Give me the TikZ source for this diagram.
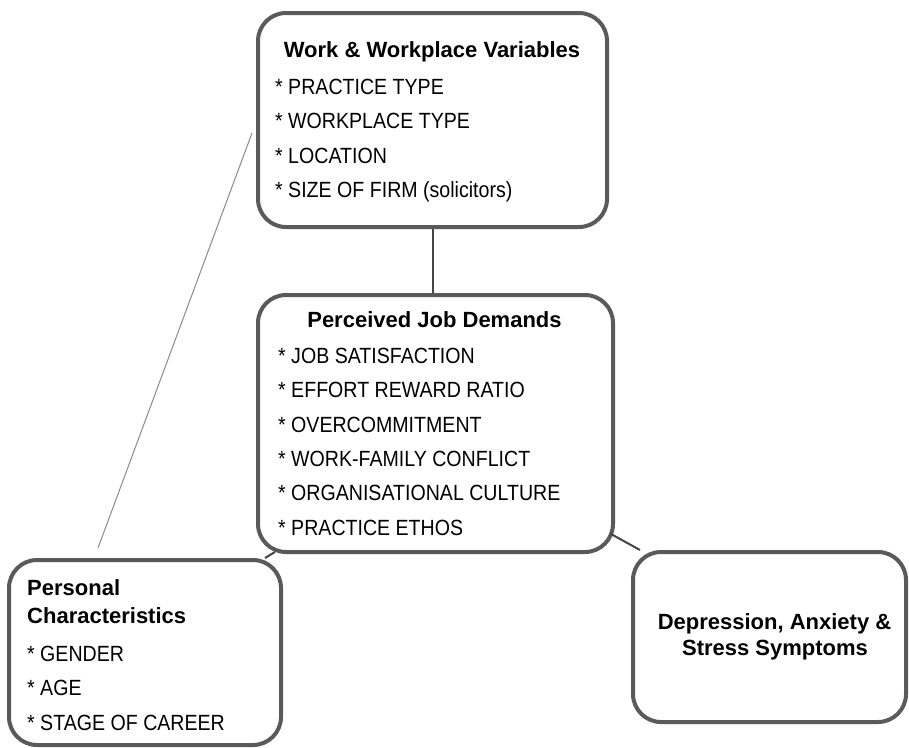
\documentclass[tikz,border=0pt]{standalone}
\usepackage{fontspec}
\setmainfont{Liberation Sans}
\newfontfamily\narrowfont{Liberation Sans}[FakeStretch=0.89]
\definecolor{boxgray}{HTML}{5A5A5A}
\definecolor{linkgray}{HTML}{454545}
\definecolor{faintgray}{HTML}{8A8A8A}
\begin{document}
\begin{tikzpicture}[x=1pt,y=-1pt,
  box/.style={draw=boxgray, line width=4pt, rounded corners=28pt, inner sep=0pt, fill=white},
  heading/.style={inner sep=0pt, anchor=base, font=\fontsize{22}{26}\selectfont\bfseries},
  headleft/.style={heading, anchor=base west},
  entry/.style={inner sep=0pt, anchor=base west, font=\narrowfont\fontsize{22}{26}\selectfont},
  link/.style={draw=linkgray, line width=2pt},
  faint/.style={draw=faintgray, line width=1pt}]
\useasboundingbox (0,0) rectangle (909,747);

% boxes
\node[box, minimum width=349pt, minimum height=214pt] (work) at (432.5,120) {};
\node[box, minimum width=355pt, minimum height=257pt] (demands) at (435.5,423.5) {};
\node[box, minimum width=272pt, minimum height=185pt] (personal) at (145,652.5) {};
\node[box, minimum width=273pt, minimum height=170pt] (outcome) at (769.5,637) {};

% work & workplace variables
\node[heading] (workTitle) at (432,57) {Work \& Workplace Variables};
\node[entry] (w1) at (275,94) {* PRACTICE TYPE};
\node[entry] (w2) at (275,128.5) {* WORKPLACE TYPE};
\node[entry] (w3) at (275,163) {* LOCATION};
\node[entry] (w4) at (275,197.5) {* SIZE OF FIRM (solicitors)};

% perceived job demands
\node[heading] (demTitle) at (434.5,327) {Perceived Job Demands};
\node[entry] (d1) at (278,363) {* JOB SATISFACTION};
\node[entry] (d2) at (278,397.5) {* EFFORT REWARD RATIO};
\node[entry] (d3) at (278,432) {* OVERCOMMITMENT};
\node[entry] (d4) at (278,466) {* WORK-FAMILY CONFLICT};
\node[entry] (d5) at (278,500.5) {* ORGANISATIONAL CULTURE};
\node[entry] (d6) at (278,535) {* PRACTICE ETHOS};

% personal characteristics
\node[headleft] (perTitleA) at (27,595) {Personal};
\node[headleft] (perTitleB) at (27,623) {Characteristics};
\node[entry] (p1) at (27,661) {* GENDER};
\node[entry] (p2) at (27,695) {* AGE};
\node[entry] (p3) at (27,730) {* STAGE OF CAREER};

% outcome
\node[heading] (outA) at (774.5,629) {Depression, Anxiety \&};
\node[heading] (outB) at (775,655) {Stress Symptoms};

% connectors
\draw[link] (work.south) -- (work.south |- demands.north);
\draw[link] ([shift={(19,-2)}]demands.south west) -- ([shift={(-18,0)}]personal.north east);
\draw[link] ([shift={(-4,-20)}]demands.south east) -- ([shift={(9,0)}]outcome.north west);
\coordinate (faintTop) at (252,133);
\coordinate (faintBottom) at (98,548);
\draw[faint] (faintTop) -- (faintBottom);
\end{tikzpicture}
\end{document}
